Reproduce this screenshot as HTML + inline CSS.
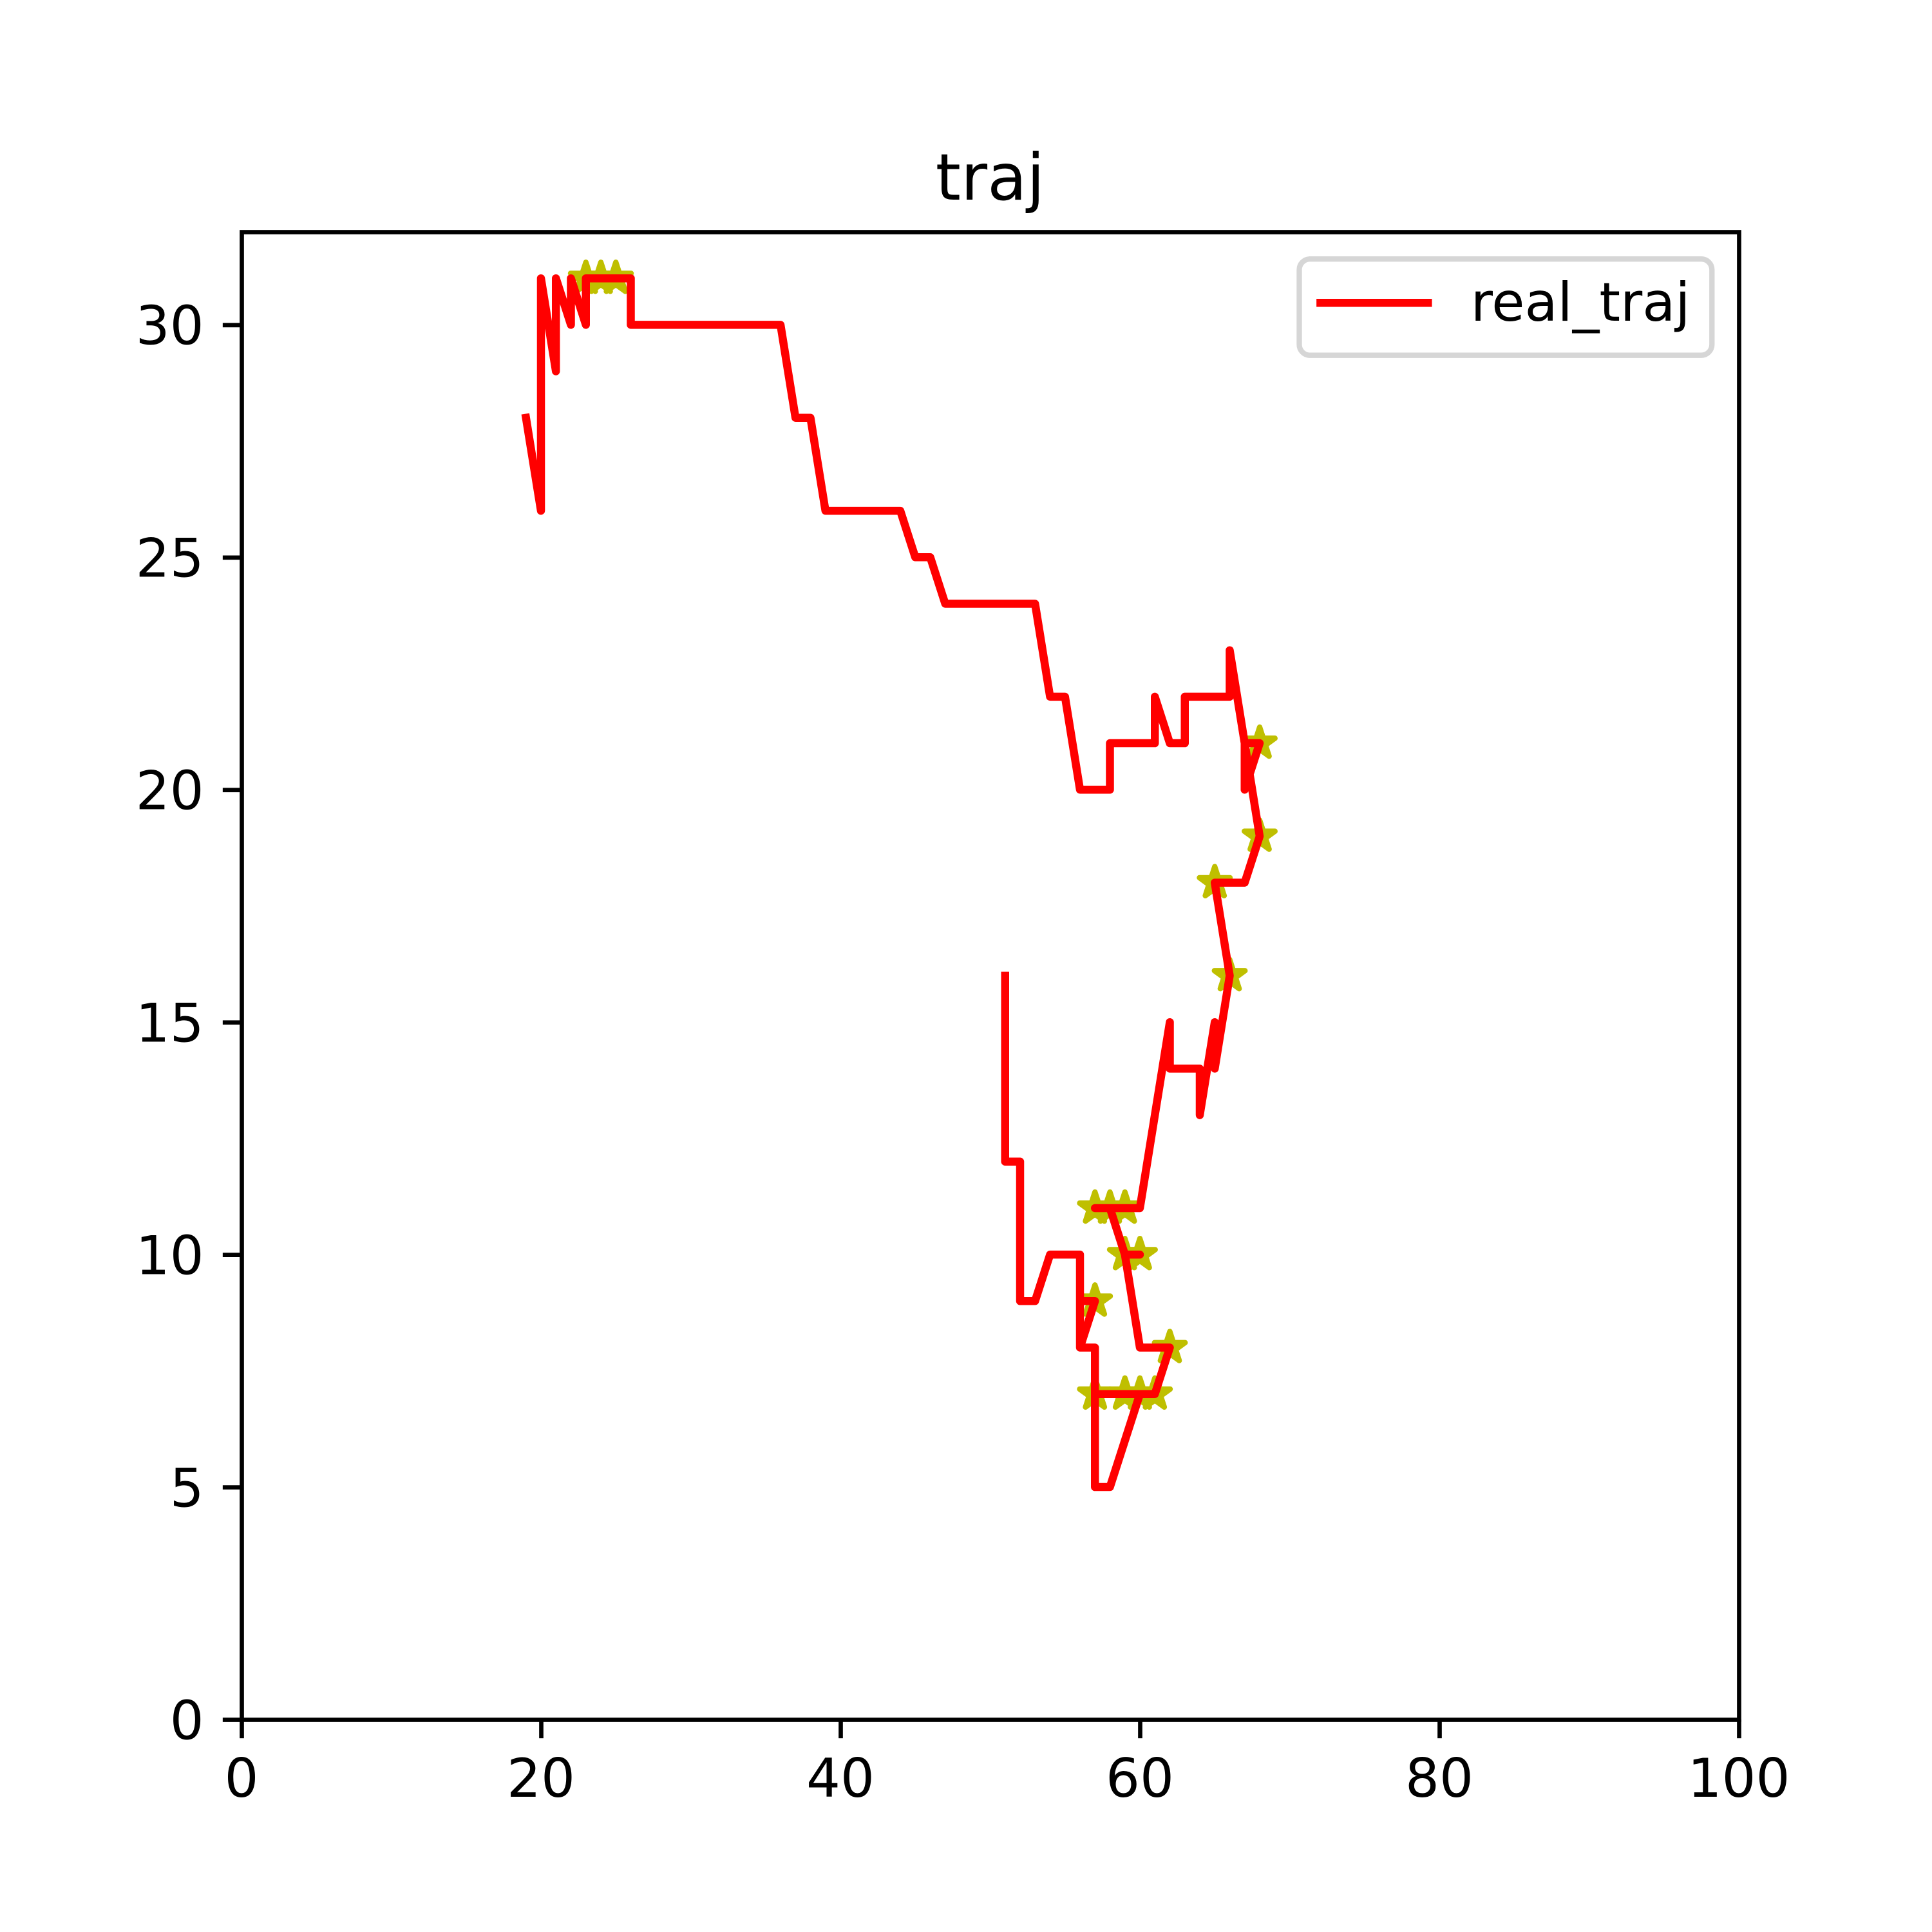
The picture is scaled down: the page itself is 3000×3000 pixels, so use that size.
<!DOCTYPE html>
<html>
<head>
<meta charset="utf-8">
<title>traj</title>
<style>
html,body{margin:0;padding:0;background:#fff;}
svg{display:block;}
text{font-family:"DejaVu Sans","Liberation Sans",sans-serif;fill:#000;}
</style>
</head>
<body>
<svg id="chart" xmlns="http://www.w3.org/2000/svg" width="3000" height="3000" viewBox="0 0 3000 3000">
  <rect x="0" y="0" width="3000" height="3000" fill="#fff"/>
  <g id="stars"></g>
  <path id="traj" fill="none" stroke="#ff0000" stroke-width="12.5" stroke-linejoin="round" stroke-linecap="square"></path>
  <g id="ticks"></g>
  <rect x="375.5" y="360.5" width="2325" height="2310" fill="none" stroke="#000" stroke-width="6.67" stroke-linecap="square" stroke-linejoin="miter"/>
  <text x="1537.5" y="310" font-size="100" text-anchor="middle">traj</text>
  <g>
    <rect x="2017.5" y="402.2" width="640.8" height="149.5" rx="16.67" ry="16.67" fill="#fff" stroke="#d6d6d6" stroke-width="8.33"/>
    <line x1="2050.4" y1="470.3" x2="2217.3" y2="470.3" stroke="#ff0000" stroke-width="12.5" stroke-linecap="square"/>
    <text x="2283.8" y="498" font-size="83.33">real_traj</text>
  </g>
</svg>
<script>
const trajX = [19,20,20,21,21,22,22,23,23,26,26,36,37,38,39,44,45,46,47,53,54,55,56,58,58,61,61,62,63,63,66,66,67,67,68,67,68,67,65,66,65,65,64,64,62,62,60,57,58,59,60,59,60,62,61,57,60,58,57,57,56,57,56,56,56,54,53,52,52,51,51];
const trajY = [28,26,31,29,31,30,31,30,31,31,30,30,28,28,26,26,25,25,24,24,22,22,20,20,21,21,22,21,21,22,22,23,21,20,21,21,19,18,18,16,14,15,13,14,14,15,11,11,11,10,10,10,8,8,7,7,7,5,5,8,8,9,9,8,10,10,9,9,12,12,16];
const starX = [23,24,25,68,68,65,66,57,58,59,59,60,57,62,57,59,60,61];
const starY = [31,31,31,21,19,18,16,11,11,11,10,10,9,8,7,7,7,7];
const xTickValues = [0,20,40,60,80,100];
const yTickValues = [0,5,10,15,20,25,30];
const xTickLabels = ['0','20','40','60','80','100'];
const yTickLabels = ['0','5','10','15','20','25','30'];
const xDomain = [0,100];
const yDomain = [0,32];

const NS = 'http://www.w3.org/2000/svg';
const plotLeft = 375, plotRight = 2700, plotTop = 360, plotBottom = 2670;
function xScale(v){ return plotLeft + (v - xDomain[0]) / (xDomain[1] - xDomain[0]) * (plotRight - plotLeft); }
function yScale(v){ return plotBottom - (v - yDomain[0]) / (yDomain[1] - yDomain[0]) * (plotBottom - plotTop); }

let d = '';
for (let i = 0; i < trajX.length; i++) {
  d += (i ? 'L' : 'M') + xScale(trajX[i]).toFixed(2) + ' ' + yScale(trajY[i]).toFixed(2);
}
document.getElementById('traj').setAttribute('d', d);

function starPoints(cx, cy, R){
  const pts = [];
  for (let k = 0; k < 10; k++) {
    const r = k % 2 ? R * 0.381966 : R;
    const a = -Math.PI / 2 + k * Math.PI / 5;
    pts.push((cx + r * Math.cos(a)).toFixed(2) + ',' + (cy + r * Math.sin(a)).toFixed(2));
  }
  return pts.join(' ');
}
const starsG = document.getElementById('stars');
for (let i = 0; i < starX.length; i++) {
  const s = document.createElementNS(NS, 'polygon');
  s.setAttribute('points', starPoints(xScale(starX[i]), yScale(starY[i]), 25));
  s.setAttribute('fill', '#bfbf00');
  s.setAttribute('stroke', '#bfbf00');
  s.setAttribute('stroke-width', '8.33');
  s.setAttribute('stroke-linejoin', 'round');
  
  
  starsG.appendChild(s);
}

const ticksG = document.getElementById('ticks');
for (let i = 0; i < xTickValues.length; i++) {
  const x = xScale(xTickValues[i]) + 0.5;
  const t = document.createElementNS(NS, 'line');
  t.setAttribute('x1', x);
  t.setAttribute('x2', x);
  t.setAttribute('y1', plotBottom);
  t.setAttribute('y2', plotBottom + 29.17);
  t.setAttribute('stroke', '#000');
  t.setAttribute('stroke-width', '6.67');
  
  
  ticksG.appendChild(t);
  const l = document.createElementNS(NS, 'text');
  l.setAttribute('x', xScale(xTickValues[i]));
  l.setAttribute('y', 2790);
  l.setAttribute('font-size', '83.33');
  l.setAttribute('text-anchor', 'middle');
  
  
  l.textContent = xTickLabels[i];
  ticksG.appendChild(l);
}
for (let i = 0; i < yTickValues.length; i++) {
  const y = yScale(yTickValues[i]) + 0.5;
  const t = document.createElementNS(NS, 'line');
  t.setAttribute('x1', plotLeft);
  t.setAttribute('x2', plotLeft - 29.17);
  t.setAttribute('y1', y);
  t.setAttribute('y2', y);
  t.setAttribute('stroke', '#000');
  t.setAttribute('stroke-width', '6.67');
  
  
  ticksG.appendChild(t);
  const l = document.createElementNS(NS, 'text');
  l.setAttribute('x', plotLeft - 58.33);
  l.setAttribute('y', yScale(yTickValues[i]) + 30.3);
  l.setAttribute('font-size', '83.33');
  l.setAttribute('text-anchor', 'end');
  
  
  l.textContent = yTickLabels[i];
  ticksG.appendChild(l);
}
</script>
</body>
</html>
